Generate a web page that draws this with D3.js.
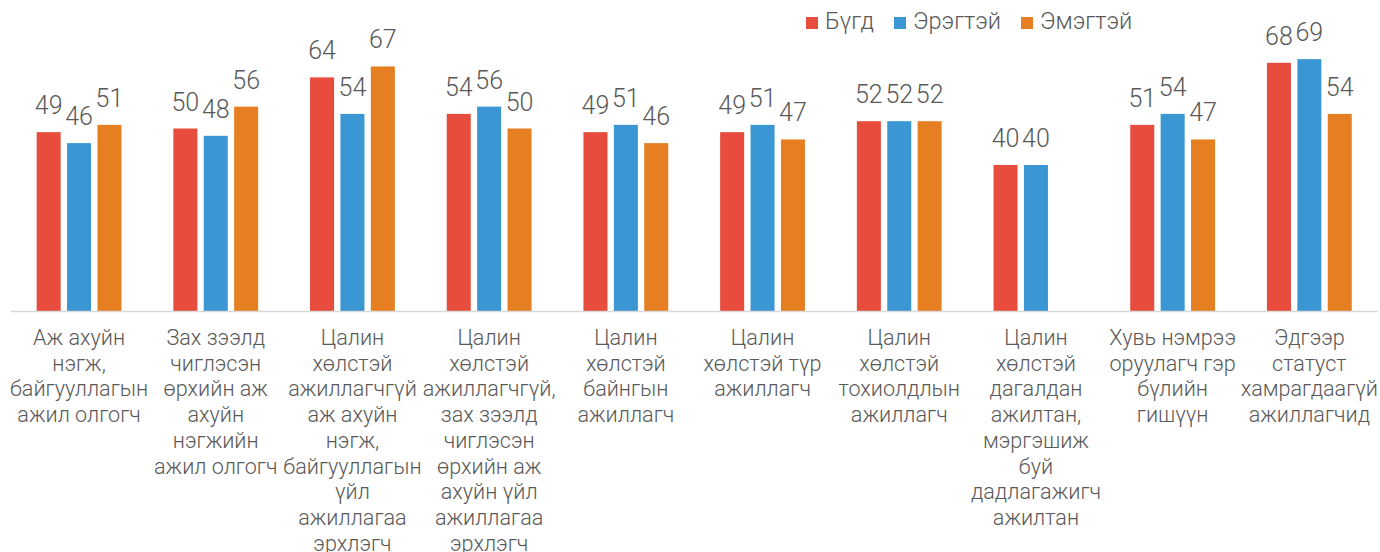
<!DOCTYPE html>
<html>
<head>
<meta charset="utf-8">
<script src="https://cdn.jsdelivr.net/npm/d3@7/dist/d3.min.js"></script>
<style>
  html, body { margin: 0; padding: 0; background: #fff; }
  svg { display: block; font-family: Roboto, "Noto Sans", sans-serif; }
</style>
</head>
<body>
<svg id="chart" width="1380" height="552"></svg>
<script>
// Category labels, one entry per line of wrapped text
const categories = [
  ["Аж ахуйн", "нэгж,", "байгууллагын", "ажил олгогч"],
  ["Зах зээлд", "чиглэсэн", "өрхийн аж", "ахуйн", "нэгжийн", "ажил олгогч"],
  ["Цалин", "хөлстэй", "ажиллагчгүй", "аж ахуйн", "нэгж,", "байгууллагын", "үйл", "ажиллагаа", "эрхлэгч"],
  ["Цалин", "хөлстэй", "ажиллагчгүй,", "зах зээлд", "чиглэсэн", "өрхийн аж", "ахуйн үйл", "ажиллагаа", "эрхлэгч"],
  ["Цалин", "хөлстэй", "байнгын", "ажиллагч"],
  ["Цалин", "хөлстэй түр", "ажиллагч"],
  ["Цалин", "хөлстэй", "тохиолдлын", "ажиллагч"],
  ["Цалин", "хөлстэй", "дагалдан", "ажилтан,", "мэргэшиж", "буй", "дадлагажигч", "ажилтан"],
  ["Хувь нэмрээ", "оруулагч гэр", "бүлийн", "гишүүн"],
  ["Эдгээр", "статуст", "хамрагдаагүй", "ажиллагчид"]
];

const seriesNames = ["Бүгд", "Эрэгтэй", "Эмэгтэй"];
const seriesColors = ["#E74C3C", "#3A97D4", "#E67E22"];

const totalValues  = [49, 50, 64, 54, 49, 49, 52, 40, 51, 68];
const maleValues   = [46, 48, 54, 56, 51, 51, 52, 40, 54, 69];
const femaleValues = [51, 56, 67, 50, 46, 47, 52, null, 47, 54];

const seriesValues = [totalValues, maleValues, femaleValues];

const svg = d3.select("#chart");
const textColor = "#595959";

const plot = { left: 10.7, right: 1377.7, top: 19, bottom: 311 };

const x0 = d3.scaleBand()
  .domain(d3.range(categories.length))
  .range([plot.left, plot.right])
  .paddingInner(0).paddingOuter(0);

// Three bar slots per category, centred in each band
const groupWidth = 84.8;
const x1 = d3.scaleBand()
  .domain(d3.range(seriesNames.length))
  .range([0, groupWidth])
  .paddingInner(0.21)
  .paddingOuter(0);

const y = d3.scaleLinear().domain([0, 80]).range([plot.bottom, plot.top]);

// Bars
const groups = svg.append("g").selectAll("g")
  .data(categories.map((c, i) => i))
  .join("g")
  .attr("transform", i => `translate(${x0(i) + (x0.bandwidth() - groupWidth) / 2},0)`);

groups.each(function(ci) {
  const g = d3.select(this);
  const cells = seriesValues
    .map((vals, si) => ({ si, v: vals[ci] }))
    .filter(d => d.v !== null);

  g.selectAll("rect")
    .data(cells)
    .join("rect")
    .attr("x", d => x1(d.si))
    .attr("width", x1.bandwidth())
    .attr("y", d => y(d.v))
    .attr("height", d => y(0) - y(d.v))
    .attr("fill", d => seriesColors[d.si]);

  g.selectAll("text.val")
    .data(cells)
    .join("text")
    .attr("class", "val")
    .attr("x", d => x1(d.si) + x1.bandwidth() / 2)
    .attr("y", d => y(d.v) - 18)
    .attr("text-anchor", "middle")
    .attr("font-size", 25)
    .attr("font-weight", 300)
    .attr("fill", textColor)
    .text(d => d.v);
});

// Category axis line
svg.append("line")
  .attr("x1", plot.left).attr("x2", plot.right)
  .attr("y1", plot.bottom + 0.5).attr("y2", plot.bottom + 0.5)
  .attr("stroke", "#D9D9D9").attr("stroke-width", 1.5);

// Category labels
const labels = svg.append("g").selectAll("text")
  .data(categories)
  .join("text")
  .attr("text-anchor", "middle")
  .attr("font-size", 21.6)
  .attr("font-weight", 300)
  .attr("fill", textColor)
  .attr("transform", (d, i) => `translate(${x0(i) + x0.bandwidth() / 2},345)`);

labels.selectAll("tspan")
  .data(d => d)
  .join("tspan")
  .attr("x", 0)
  .attr("y", (d, i) => i * 25.7)
  .text(d => d);

// Legend
const legendX = [806, 894, 1021];
const legend = svg.append("g").selectAll("g")
  .data(seriesNames)
  .join("g")
  .attr("transform", (d, i) => `translate(${legendX[i]},0)`);

legend.append("rect")
  .attr("x", 0).attr("y", 17)
  .attr("width", 12).attr("height", 12)
  .attr("fill", (d, i) => seriesColors[i]);

legend.append("text")
  .attr("x", 19).attr("y", 29)
  .attr("font-size", 23.5)
  .attr("font-weight", 300)
  .attr("fill", textColor)
  .text(d => d);
</script>
</body>
</html>
